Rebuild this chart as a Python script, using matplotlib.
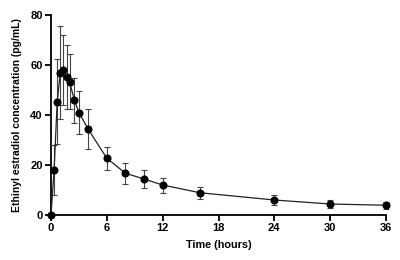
import matplotlib
matplotlib.use("Agg")
import matplotlib.pyplot as plt

# Ethinyl estradiol mean concentration with SD
time_h = [0, 1/3, 2/3, 1, 4/3, 5/3, 2, 2.5, 3, 4, 6, 8, 10, 12, 16, 24, 30, 36]
conc_mean = [0, 18, 45.3, 57, 58, 55.3, 53.3, 46, 41, 34.3, 22.7, 16.7, 14.4, 12, 8.9, 6.0, 4.4, 3.9]
conc_sd = [0, 10, 17, 18.5, 14, 12.7, 11, 9, 8.5, 8, 4.7, 4.2, 3.7, 3, 2.4, 1.9, 1.5, 1.3]
x_ticks = [0, 6, 12, 18, 24, 30, 36]
y_ticks = [0, 20, 40, 60, 80]

plt.rcParams["font.family"] = ["Liberation Sans", "DejaVu Sans"]
plt.rcParams["font.weight"] = "bold"

fig = plt.figure(figsize=(4, 2.6), dpi=100)
ax = fig.add_axes([51/400, 45/260, 335/400, 200/260])

ax.errorbar(time_h, conc_mean, yerr=conc_sd, fmt="-o", color="#222222",
            ecolor="#444444", elinewidth=0.8, capsize=2, capthick=0.8,
            lw=0.9, ms=4.8, mfc="black", mec="black", clip_on=False, zorder=3)

ax.set_xlim(0, 36)
ax.set_ylim(0, 80)
ax.set_xticks(x_ticks)
ax.set_yticks(y_ticks)
for s in ("top", "right"):
    ax.spines[s].set_visible(False)
for s in ("left", "bottom"):
    ax.spines[s].set_linewidth(1.3)
ax.tick_params(direction="out", length=4, width=1.3, labelsize=8, pad=2)
ax.set_xlabel("Time (hours)", fontsize=7.8, fontweight="bold", labelpad=5)
ax.set_ylabel("Ethinyl estradiol concentration (pg/mL)", fontsize=7.5,
              fontweight="bold", labelpad=6)

fig.savefig("out.png", dpi=100)
